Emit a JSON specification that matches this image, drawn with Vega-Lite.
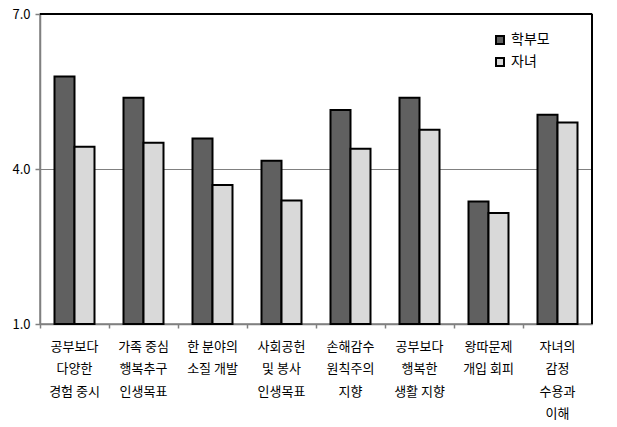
{
  "$schema": "https://vega.github.io/schema/vega-lite/v6.json",
  "width": 552,
  "height": 310,
  "autosize": {"type": "none"},
  "padding": {"left": 40, "top": 14, "right": 25, "bottom": 103},
  "background": "white",
  "config": {
    "view": {"stroke": "#808080", "strokeWidth": 1.5},
    "font": "Noto Sans CJK KR"
  },
  "data": {
    "values": [
      {"item": "공부보다|다양한|경험 중시", "group": "학부모", "value": 5.79},
      {"item": "공부보다|다양한|경험 중시", "group": "자녀", "value": 4.43},
      {"item": "가족 중심|행복추구|인생목표", "group": "학부모", "value": 5.38},
      {"item": "가족 중심|행복추구|인생목표", "group": "자녀", "value": 4.51},
      {"item": "한 분야의|소질 개발", "group": "학부모", "value": 4.59},
      {"item": "한 분야의|소질 개발", "group": "자녀", "value": 3.69},
      {"item": "사회공헌|및 봉사|인생목표", "group": "학부모", "value": 4.16},
      {"item": "사회공헌|및 봉사|인생목표", "group": "자녀", "value": 3.39},
      {"item": "손해감수|원칙주의|지향", "group": "학부모", "value": 5.14},
      {"item": "손해감수|원칙주의|지향", "group": "자녀", "value": 4.39},
      {"item": "공부보다|행복한|생활 지향", "group": "학부모", "value": 5.38},
      {"item": "공부보다|행복한|생활 지향", "group": "자녀", "value": 4.76},
      {"item": "왕따문제|개입 회피", "group": "학부모", "value": 3.37},
      {"item": "왕따문제|개입 회피", "group": "자녀", "value": 3.15},
      {"item": "자녀의|감정|수용과|이해", "group": "학부모", "value": 5.05},
      {"item": "자녀의|감정|수용과|이해", "group": "자녀", "value": 4.9}
    ]
  },
  "layer": [
    {
      "mark": {"type": "bar", "stroke": "black", "strokeWidth": 2},
      "encoding": {
        "x": {
          "field": "item",
          "type": "nominal",
          "sort": null,
          "title": null,
          "scale": {"paddingInner": 0, "paddingOuter": 0},
          "axis": {
            "bandPosition": 0,
            "labelAngle": 0,
            "labelExpr": "split(datum.value, '|')",
            "labelFontSize": 13,
            "labelColor": "black",
            "labelLineHeight": 22.5,
            "labelPadding": 12,
            "labelOverlap": false,
            "labelBound": false,
            "domainColor": "#808080",
            "domainWidth": 1.5,
            "tickColor": "#808080",
            "tickSize": 4,
            "tickWidth": 1.5,
            "ticks": true
          }
        },
        "xOffset": {
          "field": "group",
          "type": "nominal",
          "sort": ["학부모", "자녀"],
          "scale": {"paddingInner": 0, "paddingOuter": 0.725}
        },
        "y": {
          "field": "value",
          "type": "quantitative",
          "title": null,
          "scale": {"domain": [1, 7], "nice": false, "zero": false},
          "axis": {
            "values": [1, 4, 7],
            "format": ".1f",
            "labelFontSize": 13,
            "labelColor": "black",
            "labelPadding": 5,
            "domainColor": "#808080",
            "domainWidth": 1.5,
            "tickColor": "#808080",
            "tickSize": 5,
            "tickWidth": 1.5,
            "grid": true,
            "gridColor": "#808080",
            "gridWidth": 1.2
          }
        },
        "y2": {"datum": 1},
        "fill": {
          "field": "group",
          "type": "nominal",
          "sort": ["학부모", "자녀"],
          "scale": {"domain": ["학부모", "자녀"], "range": ["#606060", "#d9d9d9"]},
          "legend": {
            "title": null,
            "orient": "none",
            "legendX": 453,
            "legendY": 19,
            "symbolType": "square",
            "symbolSize": 64,
            "symbolStrokeColor": "black",
            "symbolStrokeWidth": 2,
            "labelFontSize": 14,
            "labelColor": "black",
            "labelOffset": 4,
            "rowPadding": 6
          }
        }
      }
    },
    {
      "mark": {"type": "rule", "color": "black", "strokeWidth": 1.5},
      "encoding": {"y": {"datum": 7}}
    },
    {
      "mark": {"type": "rule", "color": "black", "strokeWidth": 1.5},
      "encoding": {"x": {"datum": "자녀의|감정|수용과|이해", "bandPosition": 1}}
    }
  ]
}
